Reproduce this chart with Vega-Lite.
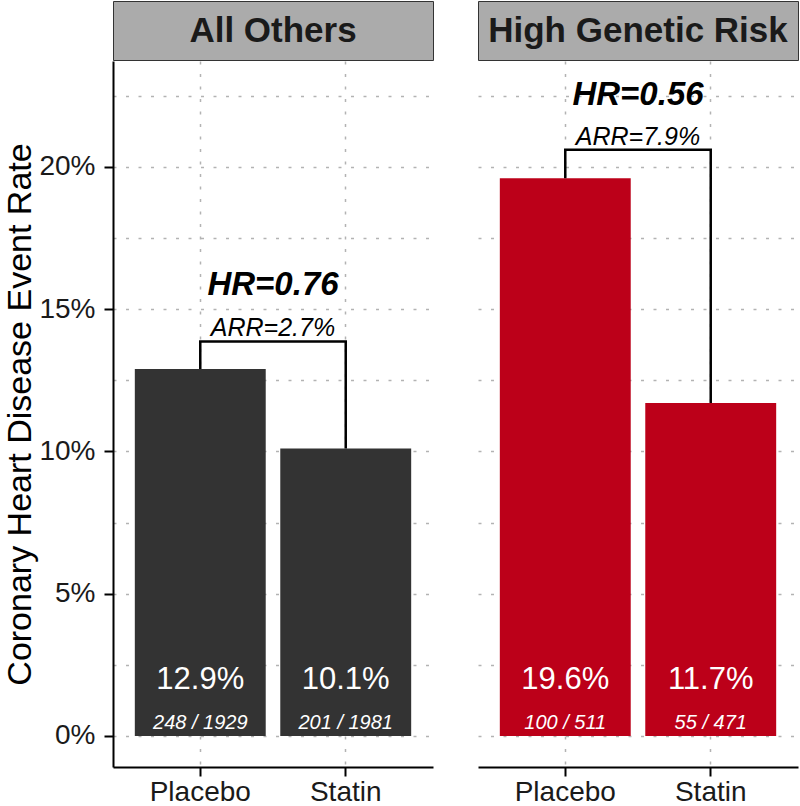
{
  "$schema": "https://vega.github.io/schema/vega-lite/v6.json",
  "padding": {"left": 3, "top": 0, "right": 0, "bottom": 0},
  "datasets": {
    "bars": [
      {"panel": "All Others", "arm": "Placebo", "rate": 12.9, "rate_label": "12.9%", "frac": "248 / 1929"},
      {"panel": "All Others", "arm": "Statin", "rate": 10.1, "rate_label": "10.1%", "frac": "201 / 1981"},
      {"panel": "High Genetic Risk", "arm": "Placebo", "rate": 19.6, "rate_label": "19.6%", "frac": "100 / 511"},
      {"panel": "High Genetic Risk", "arm": "Statin", "rate": 11.7, "rate_label": "11.7%", "frac": "55 / 471"}
    ],
    "notes": [
      {"panel": "All Others", "hr": "HR=0.76", "arr": "ARR=2.7%"},
      {"panel": "High Genetic Risk", "hr": "HR=0.56", "arr": "ARR=7.9%"}
    ],
    "bracket": [
      {"panel": "All Others", "arm": "Placebo", "y": 12.9, "step": 1},
      {"panel": "All Others", "arm": "Placebo", "y": 13.86, "step": 2},
      {"panel": "All Others", "arm": "Statin", "y": 13.86, "step": 3},
      {"panel": "All Others", "arm": "Statin", "y": 10.1, "step": 4},
      {"panel": "High Genetic Risk", "arm": "Placebo", "y": 19.6, "step": 1},
      {"panel": "High Genetic Risk", "arm": "Placebo", "y": 20.6, "step": 2},
      {"panel": "High Genetic Risk", "arm": "Statin", "y": 20.6, "step": 3},
      {"panel": "High Genetic Risk", "arm": "Statin", "y": 11.7, "step": 4}
    ]
  },
  "spacing": 43,
  "hconcat": [
    {
      "spacing": 0,
      "vconcat": [
        {
          "width": 320,
          "height": 59,
          "view": {"fill": "#ababab", "stroke": "#333333", "strokeWidth": 1},
          "data": {"name": "notes"},
          "transform": [{"filter": "datum.panel == 'All Others'"}],
          "mark": {"type": "text", "fontSize": 35, "fontWeight": "bold", "color": "#1a1a1a", "font": "Liberation Sans"},
          "encoding": {"text": {"field": "panel", "type": "nominal"}}
        },
        {
          "width": 320,
          "height": 706,
          "layer": [
            {
              "data": {"name": "bars"},
              "transform": [{"filter": "datum.panel == 'All Others'"}],
              "mark": {"type": "bar", "color": "#333333"},
              "encoding": {
                "x": {"field": "arm", "type": "nominal", "scale": {"type": "band", "domain": ["Placebo", "Statin"], "paddingInner": 0.1, "paddingOuter": 0.15},
                  "axis": {"title": null, "labelAngle": 0, "grid": true, "labelPadding": 2}},
                "y": {"field": "rate", "type": "quantitative", "scale": {"domain": [-1.09, 23.72], "nice": false, "zero": false},
                  "axis": {"values": [0, 2.5, 5, 7.5, 10, 12.5, 15, 17.5, 20, 22.5],
                    "labelExpr": "datum.value % 5 == 0 ? datum.value + '%' : ''",
                    "tickOpacity": {"condition": {"test": "datum.value % 5 != 0", "value": 0}, "value": 1},
                    "labelOverlap": false,
                    "labelPadding": 9,
                    "title": "Coronary Heart Disease Event Rate",
                    "titleFontSize": 34, "titleFontWeight": "normal", "titleColor": "#000000", "titlePadding": 1}},
                "y2": {"datum": 0}
              }
            },
            {
              "data": {"name": "bars"},
              "transform": [{"filter": "datum.panel == 'All Others'"}],
              "mark": {"type": "text", "fontSize": 31, "color": "white"},
              "encoding": {
                "x": {"field": "arm", "type": "nominal"},
                "y": {"datum": 1.96},
                "text": {"field": "rate_label", "type": "nominal"}
              }
            },
            {
              "data": {"name": "bars"},
              "transform": [{"filter": "datum.panel == 'All Others'"}],
              "mark": {"type": "text", "fontSize": 20, "fontStyle": "italic", "color": "white"},
              "encoding": {
                "x": {"field": "arm", "type": "nominal"},
                "y": {"datum": 0.47},
                "text": {"field": "frac", "type": "nominal"}
              }
            },
            {
              "data": {"name": "bracket"},
              "transform": [{"filter": "datum.panel == 'All Others'"}],
              "mark": {"type": "line", "color": "black", "strokeWidth": 2.5},
              "encoding": {
                "x": {"field": "arm", "type": "nominal"},
                "y": {"field": "y", "type": "quantitative"},
                "order": {"field": "step", "type": "quantitative"}
              }
            },
            {
              "data": {"name": "notes"},
              "transform": [{"filter": "datum.panel == 'All Others'"}],
              "mark": {"type": "text", "fontSize": 33, "fontStyle": "italic", "fontWeight": "bold", "color": "black"},
              "encoding": {
                "y": {"datum": 15.84},
                "text": {"field": "hr", "type": "nominal"}
              }
            },
            {
              "data": {"name": "notes"},
              "transform": [{"filter": "datum.panel == 'All Others'"}],
              "mark": {"type": "text", "fontSize": 25, "fontStyle": "italic", "color": "black"},
              "encoding": {
                "y": {"datum": 14.35},
                "text": {"field": "arr", "type": "nominal"}
              }
            }
          ]
        }
      ]
    },
    {
      "spacing": 0,
      "vconcat": [
        {
          "width": 320,
          "height": 59,
          "view": {"fill": "#ababab", "stroke": "#333333", "strokeWidth": 1},
          "data": {"name": "notes"},
          "transform": [{"filter": "datum.panel == 'High Genetic Risk'"}],
          "mark": {"type": "text", "fontSize": 35, "fontWeight": "bold", "color": "#1a1a1a", "font": "Liberation Sans"},
          "encoding": {"text": {"field": "panel", "type": "nominal"}}
        },
        {
          "width": 320,
          "height": 706,
          "layer": [
            {
              "data": {"name": "bars"},
              "transform": [{"filter": "datum.panel == 'High Genetic Risk'"}],
              "mark": {"type": "bar", "color": "#bc0019"},
              "encoding": {
                "x": {"field": "arm", "type": "nominal", "scale": {"type": "band", "domain": ["Placebo", "Statin"], "paddingInner": 0.1, "paddingOuter": 0.15},
                  "axis": {"title": null, "labelAngle": 0, "grid": true, "labelPadding": 2}},
                "y": {"field": "rate", "type": "quantitative", "scale": {"domain": [-1.09, 23.72], "nice": false, "zero": false},
                  "axis": {"values": [0, 2.5, 5, 7.5, 10, 12.5, 15, 17.5, 20, 22.5],
                    "labels": false, "ticks": false, "domain": false, "title": null}},
                "y2": {"datum": 0}
              }
            },
            {
              "data": {"name": "bars"},
              "transform": [{"filter": "datum.panel == 'High Genetic Risk'"}],
              "mark": {"type": "text", "fontSize": 31, "color": "white"},
              "encoding": {
                "x": {"field": "arm", "type": "nominal"},
                "y": {"datum": 1.96},
                "text": {"field": "rate_label", "type": "nominal"}
              }
            },
            {
              "data": {"name": "bars"},
              "transform": [{"filter": "datum.panel == 'High Genetic Risk'"}],
              "mark": {"type": "text", "fontSize": 20, "fontStyle": "italic", "color": "white"},
              "encoding": {
                "x": {"field": "arm", "type": "nominal"},
                "y": {"datum": 0.47},
                "text": {"field": "frac", "type": "nominal"}
              }
            },
            {
              "data": {"name": "bracket"},
              "transform": [{"filter": "datum.panel == 'High Genetic Risk'"}],
              "mark": {"type": "line", "color": "black", "strokeWidth": 2.5},
              "encoding": {
                "x": {"field": "arm", "type": "nominal"},
                "y": {"field": "y", "type": "quantitative"},
                "order": {"field": "step", "type": "quantitative"}
              }
            },
            {
              "data": {"name": "notes"},
              "transform": [{"filter": "datum.panel == 'High Genetic Risk'"}],
              "mark": {"type": "text", "fontSize": 33, "fontStyle": "italic", "fontWeight": "bold", "color": "black"},
              "encoding": {
                "y": {"datum": 22.54},
                "text": {"field": "hr", "type": "nominal"}
              }
            },
            {
              "data": {"name": "notes"},
              "transform": [{"filter": "datum.panel == 'High Genetic Risk'"}],
              "mark": {"type": "text", "fontSize": 25, "fontStyle": "italic", "color": "black"},
              "encoding": {
                "y": {"datum": 21.04},
                "text": {"field": "arr", "type": "nominal"}
              }
            }
          ]
        }
      ]
    }
  ],
  "config": {
    "font": "Liberation Sans",
    "view": {"stroke": null},
    "axis": {
      "labelFont": "Liberation Sans",
      "labelFontSize": 28,
      "labelColor": "#1a1a1a",
      "titleFont": "Liberation Sans",
      "domainColor": "#000000",
      "domainWidth": 2,
      "tickColor": "#000000",
      "tickWidth": 2,
      "tickSize": 9,
      "gridColor": "#b3b3b3",
      "gridDash": [3, 9.5],
      "gridWidth": 1.5
    }
  }
}
